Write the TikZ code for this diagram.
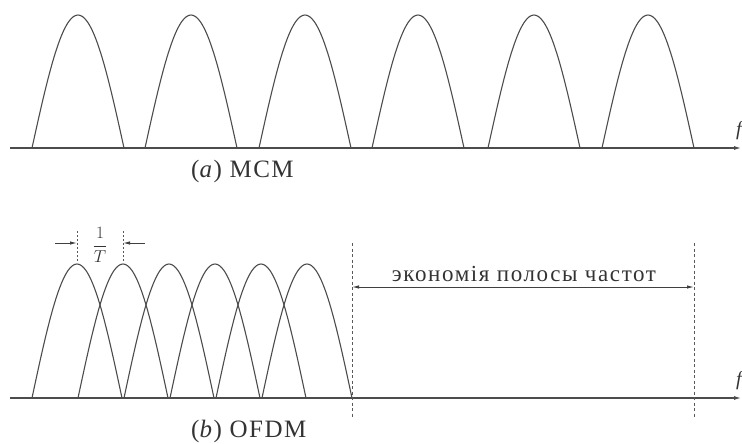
\documentclass[tikz,border=0pt]{standalone}
\usepackage{fontspec}
\setmainfont{Liberation Serif}
\newfontfamily\widefont[LetterSpace=7]{Liberation Serif}
\newfontfamily\capfont[LetterSpace=6]{Liberation Serif}
\usetikzlibrary{arrows.meta}
\begin{document}
\begin{tikzpicture}[x=1pt,y=-1pt,
  curve/.style={draw=black!70,line width=1.1pt},
  axis/.style={draw=black!70,line width=1.1pt,-{Latex[length=7pt,width=4pt]}},
  guide/.style={draw=black!65,line width=0.9pt,dash pattern=on 3pt off 2.5pt},
  dim/.style={draw=black!75,line width=1pt},
  lbl/.style={text=black!80,inner sep=0pt},
  captext/.style={lbl,font=\fontsize{25}{28}\selectfont\capfont}]
\useasboundingbox (0,0) rectangle (742,444);
% ---- (a) MCM ----
\coordinate (a0) at (10,148);
\coordinate (a1) at (741,148);
\draw[axis] (a0) -- (a1);
\foreach \c in {78,191,305,418,534,648}{
  \draw[curve] plot[domain=-46:46,samples=41,smooth] ({\c+\x},{148-133*cos(90*\x/46)});
}
\node[lbl,font=\fontsize{20}{22}\selectfont\itshape] (fa) at (739,131) {f};
\node[captext,anchor=west] (capa) at (191,171) {(\textit{a}) MCM};
% ---- (b) OFDM ----
\coordinate (b0) at (10,398);
\coordinate (b1) at (741,398);
\draw[axis] (b0) -- (b1);
\foreach \c in {77,123,169,215,261,307}{
  \draw[curve] plot[domain=-45:45,samples=41,smooth] ({\c+\x},{398-134*cos(90*\x/45)});
}
\node[lbl,font=\fontsize{20}{22}\selectfont\itshape] (fb) at (739,381) {f};
\node[captext,anchor=west] (capb) at (191,431) {(\textit{b}) OFDM};
% guides
\coordinate (g1t) at (352,243);
\coordinate (g1b) at (352,417);
\coordinate (g2t) at (694,243);
\coordinate (g2b) at (694,417);
\draw[guide] (g1t) -- (g1b);
\draw[guide] (g2t) -- (g2b);
\draw[dim,{Latex[length=7pt,width=3.5pt]}-{Latex[length=7pt,width=3.5pt]}] (352,287) -- (694,287);
\node[lbl,font=\fontsize{23}{26}\selectfont\widefont] (sav) at (524,274) {экономія полосы частот};
% 1/T
\coordinate (t1t) at (77,231);
\coordinate (t1b) at (77,262);
\coordinate (t2t) at (123,231);
\coordinate (t2b) at (123,262);
\draw[guide,dash pattern=on 2pt off 2pt] (t1t) -- (t1b);
\draw[guide,dash pattern=on 2pt off 2pt] (t2t) -- (t2b);
\coordinate (la) at (55,243);
\coordinate (ra) at (145,243);
\draw[dim,-{Latex[length=7pt,width=3.5pt]}] (la) -- (t1t |- la);
\draw[dim,-{Latex[length=7pt,width=3.5pt]}] (ra) -- (t2t |- ra);
\node[lbl,font=\fontsize{18}{20}\selectfont] (frac) at (100,245) {$\displaystyle\frac{1}{T}$};
\end{tikzpicture}
\end{document}
